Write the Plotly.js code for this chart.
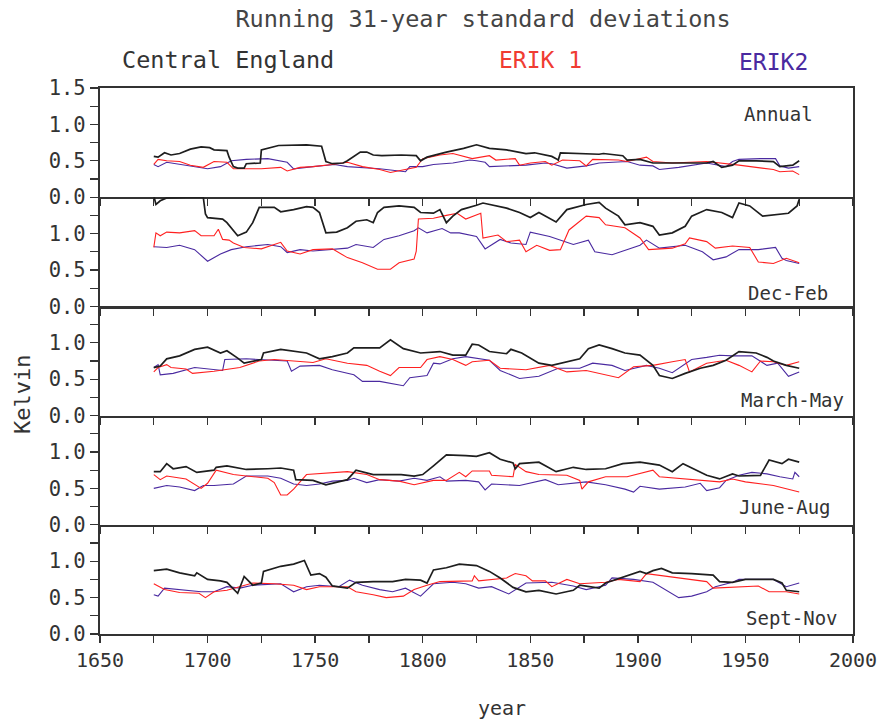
<!DOCTYPE html>
<html>
<head>
<meta charset="utf-8">
<script src="https://cdn.plot.ly/plotly-3.0.1.min.js"></script>
<style>html,body{margin:0;padding:0;background:#fff;}#chart{width:877px;height:722px;}</style>
</head>
<body>
<div id="chart"></div>
<script>
// ---- Data ----
const panelNames = ["Annual", "Dec-Feb", "March-May", "June-Aug", "Sept-Nov"];
const seriesNames = ["Central England", "ERIK 1", "ERIK2"];

// Annual
const annCetYears = [1675,1677,1680,1683,1687,1692,1697,1701,1703,1709,1710,1712,1714,1717,1718,1723,1724.5,1725,1733,1746,1753,1755,1758,1763,1765,1771,1774,1777,1781,1790,1797,1799,1802,1811,1819,1825,1828,1831,1839,1848,1852,1860,1862,1863,1864,1882,1884,1893,1895,1901,1907,1916,1932,1935,1939,1944,1947,1955,1963,1966,1972,1975];
const annCetVals  = [0.56,0.55,0.61,0.58,0.60,0.66,0.69,0.68,0.65,0.64,0.55,0.42,0.40,0.40,0.46,0.47,0.47,0.65,0.71,0.72,0.70,0.49,0.46,0.47,0.50,0.62,0.62,0.58,0.57,0.58,0.57,0.50,0.55,0.62,0.67,0.72,0.70,0.67,0.65,0.60,0.61,0.56,0.53,0.51,0.61,0.59,0.60,0.57,0.51,0.52,0.47,0.47,0.47,0.49,0.41,0.44,0.50,0.50,0.49,0.42,0.44,0.50];
const annE1Years = [1675,1677,1681,1687,1692,1698,1703,1709,1712,1725,1734,1737,1743,1749,1758,1765,1772,1780,1785,1791,1797,1800,1808,1814,1820,1823,1831,1834,1843,1845,1850,1857,1860,1865,1873,1876,1879,1891,1895,1904,1907,1916,1932,1939,1947,1955,1963,1966,1972,1975];
const annE1Vals  = [0.45,0.52,0.50,0.49,0.44,0.41,0.49,0.48,0.39,0.39,0.41,0.36,0.41,0.42,0.45,0.48,0.42,0.38,0.34,0.38,0.41,0.53,0.58,0.60,0.56,0.53,0.57,0.51,0.53,0.44,0.47,0.49,0.44,0.51,0.50,0.43,0.52,0.51,0.49,0.55,0.49,0.47,0.49,0.47,0.44,0.41,0.38,0.35,0.36,0.31];
const annE2Years = [1675,1677,1681,1687,1692,1700,1706,1711,1718,1728,1737,1740,1749,1759,1765,1780,1792,1794,1800,1805,1814,1822,1825,1829,1831,1839,1848,1857,1860,1867,1876,1882,1895,1901,1907,1910,1919,1932,1941,1944,1947,1957,1964,1966,1970,1975];
const annE2Vals  = [0.45,0.42,0.48,0.45,0.43,0.39,0.42,0.50,0.52,0.53,0.48,0.39,0.42,0.45,0.42,0.39,0.35,0.42,0.42,0.45,0.47,0.51,0.50,0.48,0.42,0.43,0.44,0.47,0.46,0.40,0.43,0.47,0.49,0.44,0.43,0.38,0.41,0.47,0.42,0.49,0.52,0.53,0.53,0.43,0.40,0.42];

// Dec-Feb
const djfCetYears = [1675,1676,1678,1681,1690,1696,1698,1699,1700,1707,1709,1714,1718,1721,1724,1731,1734,1740,1746,1749,1752,1755,1760,1765,1769,1774,1777,1779,1782,1789,1796,1799,1805,1808,1811,1814,1818,1825,1828,1839,1845,1850,1854,1862,1867,1876,1882,1885,1891,1894,1901,1907,1910,1916,1922,1925,1932,1939,1944,1947,1952,1958,1963,1970,1974,1975];
const djfCetVals  = [1.52,1.40,1.45,1.49,1.50,1.50,1.50,1.27,1.22,1.20,1.15,0.97,1.02,1.15,1.36,1.36,1.30,1.33,1.37,1.36,1.29,1.01,1.02,1.08,1.17,1.19,1.15,1.29,1.36,1.38,1.36,1.29,1.28,1.33,1.15,1.24,1.33,1.39,1.42,1.35,1.29,1.22,1.29,1.16,1.33,1.40,1.43,1.35,1.24,1.12,1.15,1.10,0.98,1.01,1.10,1.24,1.33,1.29,1.22,1.42,1.38,1.24,1.26,1.28,1.38,1.47];
const djfE1Years = [1675,1676,1678,1681,1687,1694,1697,1703,1705,1707,1710,1712,1717,1725,1734,1737,1743,1749,1758,1765,1772,1779,1785,1789,1796,1797,1798,1805,1811,1816,1820,1824,1827,1828,1835,1839,1845,1848,1853,1859,1864,1868,1871,1876,1882,1885,1894,1901,1905,1916,1922,1924,1932,1936,1944,1952,1956,1963,1969,1975];
const djfE1Vals  = [0.81,1.01,0.97,1.02,1.01,1.04,0.97,0.97,1.06,0.92,0.91,0.87,0.81,0.79,0.88,0.76,0.72,0.78,0.79,0.67,0.60,0.51,0.51,0.60,0.65,0.76,1.20,1.21,1.25,1.28,1.20,1.24,1.28,0.94,0.98,0.89,0.91,0.75,0.84,0.77,0.78,1.05,1.12,1.24,1.22,1.12,1.08,0.94,0.78,0.80,0.86,0.94,0.89,0.80,0.83,0.81,0.61,0.59,0.66,0.60];
const djfE2Years = [1675,1681,1687,1694,1700,1706,1711,1718,1728,1734,1737,1743,1749,1759,1765,1769,1777,1782,1789,1796,1798,1802,1809,1813,1817,1825,1829,1836,1841,1848,1850,1859,1870,1877,1880,1888,1894,1901,1904,1910,1922,1930,1935,1941,1947,1956,1964,1967,1969,1975];
const djfE2Vals  = [0.82,0.81,0.84,0.78,0.62,0.72,0.78,0.82,0.85,0.82,0.74,0.78,0.76,0.79,0.80,0.85,0.81,0.92,0.97,1.04,1.08,1.01,1.07,1.01,1.01,0.96,0.79,0.92,0.87,0.85,1.02,0.96,0.85,0.91,0.75,0.71,0.77,0.84,0.91,0.80,0.84,0.75,0.64,0.68,0.78,0.78,0.81,0.66,0.63,0.59];

// March-May
const mamCetYears = [1675,1678,1681,1687,1694,1700,1706,1709,1714,1717,1725,1726,1734,1746,1752,1758,1765,1768,1780,1785,1791,1799,1808,1814,1820,1823,1826,1831,1839,1841,1846,1854,1860,1867,1873,1877,1882,1888,1894,1901,1907,1910,1916,1922,1929,1935,1941,1947,1955,1960,1963,1969,1975];
const mamCetVals  = [0.66,0.68,0.78,0.82,0.91,0.94,0.86,0.89,0.79,0.72,0.77,0.86,0.91,0.86,0.78,0.81,0.86,0.93,0.93,1.04,0.92,0.86,0.88,0.83,0.83,0.98,0.97,0.88,0.85,0.91,0.86,0.72,0.69,0.74,0.78,0.92,0.97,0.92,0.86,0.83,0.69,0.55,0.51,0.58,0.65,0.69,0.76,0.88,0.86,0.80,0.75,0.69,0.65];
const mamE1Years = [1675,1677,1681,1683,1690,1693,1703,1715,1724,1731,1749,1755,1765,1774,1780,1785,1789,1799,1802,1808,1814,1820,1823,1831,1836,1848,1859,1867,1876,1891,1898,1907,1916,1922,1924,1932,1941,1947,1953,1957,1963,1969,1975];
const mamE1Vals  = [0.60,0.66,0.70,0.66,0.64,0.58,0.61,0.66,0.75,0.77,0.73,0.78,0.72,0.69,0.61,0.55,0.66,0.66,0.77,0.81,0.77,0.69,0.74,0.76,0.65,0.63,0.69,0.60,0.62,0.52,0.67,0.69,0.74,0.77,0.60,0.72,0.76,0.69,0.60,0.75,0.74,0.69,0.74];
const mamE2Years = [1675,1677,1678,1684,1694,1703,1707,1708,1718,1737,1739,1743,1752,1758,1768,1772,1780,1791,1794,1802,1805,1808,1814,1820,1826,1831,1836,1845,1854,1863,1873,1879,1888,1894,1904,1910,1916,1925,1932,1938,1944,1953,1960,1965,1970,1975];
const mamE2Vals  = [0.66,0.70,0.56,0.58,0.66,0.63,0.62,0.77,0.78,0.75,0.61,0.68,0.69,0.63,0.56,0.47,0.47,0.41,0.52,0.55,0.72,0.71,0.78,0.81,0.78,0.76,0.62,0.51,0.54,0.65,0.65,0.72,0.69,0.62,0.69,0.65,0.59,0.77,0.80,0.83,0.82,0.82,0.69,0.72,0.54,0.60];

// June-Aug
const jjaCetYears = [1675,1678,1681,1684,1690,1695,1703,1704,1709,1718,1728,1734,1740,1741,1749,1755,1765,1769,1777,1790,1796,1800,1805,1811,1820,1825,1831,1836,1842,1843,1845,1854,1862,1870,1876,1885,1893,1901,1910,1916,1921,1929,1932,1938,1944,1947,1957,1961,1967,1970,1975];
const jjaCetVals  = [0.73,0.73,0.84,0.77,0.80,0.72,0.75,0.79,0.81,0.76,0.77,0.78,0.75,0.62,0.61,0.55,0.62,0.75,0.69,0.69,0.67,0.69,0.81,0.96,0.95,0.94,0.99,0.90,0.85,0.77,0.84,0.86,0.73,0.79,0.76,0.77,0.84,0.86,0.82,0.73,0.84,0.73,0.68,0.63,0.70,0.67,0.68,0.89,0.84,0.90,0.86];
const jjaE1Years = [1675,1678,1681,1690,1697,1700,1704,1712,1718,1728,1731,1734,1737,1740,1746,1752,1765,1774,1780,1789,1796,1805,1811,1817,1820,1823,1831,1832,1842,1843,1848,1854,1867,1873,1874,1877,1885,1895,1904,1907,1910,1922,1932,1938,1944,1950,1963,1969,1975];
const jjaE1Vals  = [0.69,0.62,0.67,0.63,0.50,0.57,0.75,0.69,0.67,0.64,0.58,0.41,0.41,0.49,0.69,0.70,0.73,0.69,0.62,0.60,0.55,0.61,0.61,0.72,0.66,0.74,0.74,0.68,0.66,0.83,0.73,0.69,0.68,0.61,0.49,0.59,0.66,0.66,0.72,0.75,0.66,0.63,0.61,0.59,0.63,0.59,0.54,0.49,0.45];
const jjaE2Years = [1675,1681,1687,1694,1698,1703,1712,1718,1728,1734,1740,1746,1752,1758,1765,1768,1774,1780,1789,1796,1802,1808,1811,1820,1826,1829,1832,1845,1857,1863,1876,1885,1894,1898,1901,1910,1922,1929,1932,1938,1941,1947,1953,1960,1966,1972,1973,1975];
const jjaE2Vals  = [0.50,0.54,0.52,0.47,0.54,0.54,0.56,0.67,0.67,0.64,0.56,0.54,0.56,0.60,0.61,0.64,0.58,0.62,0.60,0.64,0.61,0.66,0.60,0.61,0.59,0.48,0.56,0.54,0.62,0.55,0.59,0.55,0.49,0.45,0.53,0.49,0.52,0.57,0.47,0.51,0.61,0.68,0.72,0.70,0.66,0.63,0.72,0.66];

// Sept-Nov
const sonCetYears = [1675,1681,1687,1694,1695,1700,1706,1709,1714,1717,1721,1725,1726,1734,1740,1745,1748,1752,1755,1758,1765,1769,1777,1786,1792,1799,1802,1805,1811,1817,1825,1831,1836,1842,1848,1854,1862,1870,1873,1882,1885,1893,1901,1904,1907,1911,1916,1925,1935,1938,1944,1950,1963,1967,1969,1975];
const sonCetVals  = [0.87,0.89,0.84,0.80,0.84,0.75,0.73,0.71,0.56,0.79,0.67,0.70,0.86,0.93,0.96,1.01,0.81,0.83,0.78,0.66,0.63,0.71,0.72,0.72,0.75,0.74,0.70,0.88,0.91,0.96,0.94,0.86,0.77,0.64,0.58,0.60,0.55,0.60,0.67,0.63,0.70,0.78,0.86,0.83,0.87,0.90,0.84,0.83,0.81,0.72,0.71,0.75,0.75,0.70,0.60,0.58];
const sonE1Years = [1675,1680,1687,1696,1699,1703,1709,1715,1721,1731,1740,1746,1752,1765,1769,1777,1783,1791,1796,1802,1808,1823,1824,1826,1839,1843,1848,1851,1857,1860,1867,1873,1885,1891,1901,1904,1916,1932,1935,1947,1956,1961,1969,1975];
const sonE1Vals  = [0.69,0.61,0.57,0.56,0.50,0.58,0.60,0.65,0.70,0.69,0.67,0.61,0.65,0.65,0.58,0.54,0.50,0.52,0.61,0.67,0.72,0.73,0.80,0.73,0.77,0.83,0.80,0.73,0.73,0.65,0.75,0.69,0.71,0.75,0.72,0.83,0.78,0.72,0.63,0.65,0.66,0.58,0.58,0.55];
const sonE2Years = [1675,1677,1680,1687,1697,1703,1709,1715,1721,1734,1740,1746,1752,1761,1766,1772,1780,1786,1792,1799,1805,1814,1820,1826,1832,1840,1848,1860,1870,1876,1885,1888,1898,1907,1913,1919,1925,1932,1936,1944,1947,1963,1969,1972,1975];
const sonE2Vals  = [0.54,0.52,0.63,0.61,0.58,0.58,0.65,0.63,0.67,0.69,0.58,0.65,0.67,0.65,0.74,0.67,0.61,0.58,0.63,0.52,0.69,0.71,0.69,0.63,0.65,0.55,0.70,0.71,0.66,0.61,0.67,0.77,0.75,0.71,0.60,0.50,0.52,0.58,0.65,0.71,0.75,0.75,0.65,0.67,0.70];

const xTickVals = [1650,1700,1750,1800,1850,1900,1950,2000];

// ---- Build traces ----
const panels = [
  [[annCetYears, annCetVals], [annE1Years, annE1Vals], [annE2Years, annE2Vals]],
  [[djfCetYears, djfCetVals], [djfE1Years, djfE1Vals], [djfE2Years, djfE2Vals]],
  [[mamCetYears, mamCetVals], [mamE1Years, mamE1Vals], [mamE2Years, mamE2Vals]],
  [[jjaCetYears, jjaCetVals], [jjaE1Years, jjaE1Vals], [jjaE2Years, jjaE2Vals]],
  [[sonCetYears, sonCetVals], [sonE1Years, sonE1Vals], [sonE2Years, sonE2Vals]]
];
const lineStyles = [
  {color: '#1e1e1e', width: 1.7},
  {color: '#ff2020', width: 1.1},
  {color: '#4a2aa0', width: 1.1}
];
const traces = [];
const order = [2, 1, 0];
panels.forEach((p, i) => {
  const sfx = i === 0 ? '' : String(i + 1);
  order.forEach(s => {
    traces.push({
      type: 'scatter', mode: 'lines',
      x: p[s][0], y: p[s][1],
      name: seriesNames[s],
      xaxis: 'x' + sfx, yaxis: 'y' + sfx,
      line: Object.assign({shape: 'linear'}, lineStyles[s]),
      showlegend: false, hoverinfo: 'skip'
    });
  });
});

const FONT = '"DejaVu Sans Mono", "Liberation Mono", monospace';
const axisColor = '#333';
const layout = {
  width: 877, height: 722,
  margin: {l: 100, r: 24, t: 88, b: 88},
  paper_bgcolor: '#fff', plot_bgcolor: '#fff',
  font: {family: FONT, color: '#333', size: 20},
  title: {text: 'Running 31-year standard deviations', x: 483/877, xref: 'container', xanchor: 'center', y: 1 - 19/722, yref: 'container', yanchor: 'middle', font: {family: FONT, size: 23.5, color: '#444'}},
  showlegend: false,
  annotations: []
};

for (let i = 0; i < 5; i++) {
  const sfx = i === 0 ? '' : String(i + 1);
  const top = 1 - i * 0.2, bot = 1 - (i + 1) * 0.2;
  const isBottom = i === 4;
  layout['xaxis' + sfx] = {
    range: [1650, 2000], anchor: 'y' + sfx, domain: [0, 1],
    showgrid: false, zeroline: false,
    showline: true, mirror: i === 0, linecolor: axisColor, linewidth: 2.2,
    tickvals: xTickVals, ticktext: xTickVals.map(String),
    ticks: 'outside', ticklen: 7, tickwidth: 1.3, tickcolor: axisColor,
    minor: {dtick: 25, tick0: 1650, ticks: 'outside', ticklen: 7, tickwidth: 1.3, tickcolor: axisColor},
    showticklabels: isBottom,
    ticklabeloverflow: 'allow',
    tickfont: {family: FONT, size: 20, color: '#333'},
    fixedrange: true
  };
  const yvals = i === 0 ? [0, 0.5, 1.0, 1.5] : [0, 0.5, 1.0];
  layout['yaxis' + sfx] = {
    range: [0, 1.5], anchor: 'x' + sfx, domain: [Math.max(0, bot), Math.min(1, top)],
    showgrid: false, zeroline: false,
    showline: true, mirror: true, linecolor: axisColor, linewidth: 2.2,
    tickvals: yvals, ticktext: yvals.map(v => v.toFixed(1)),
    ticks: 'outside', ticklen: 8, tickwidth: 1.3, tickcolor: axisColor,
    minor: {tickvals: [0.25, 0.75, 1.25], ticks: 'outside', ticklen: 8, tickwidth: 1.3, tickcolor: axisColor},
    tickfont: {family: FONT, size: 20.5, color: '#333'},
    fixedrange: true
  };
}

// pixel helpers for annotations
const px2x = px => (px - 100) / 753;
const py2y = py => (634 - py) / 546;

const ann = layout.annotations;
ann.push({text: 'Central England', xref: 'paper', yref: 'paper', x: px2x(228), y: py2y(60), xanchor: 'center', yanchor: 'middle', showarrow: false, font: {family: FONT, size: 23.5, color: '#333'}});
ann.push({text: 'ERIK 1', xref: 'paper', yref: 'paper', x: px2x(540), y: py2y(60), xanchor: 'center', yanchor: 'middle', showarrow: false, font: {family: FONT, size: 23, color: '#f03c32'}});
ann.push({text: 'ERIK2', xref: 'paper', yref: 'paper', x: px2x(773), y: py2y(62), xanchor: 'center', yanchor: 'middle', showarrow: false, font: {family: FONT, size: 23, color: '#4a2aa0'}});
ann.push({text: 'Kelvin', xref: 'paper', yref: 'paper', x: px2x(22), y: py2y(395), xanchor: 'center', yanchor: 'middle', textangle: -90, showarrow: false, font: {family: FONT, size: 22, color: '#333'}});
ann.push({text: 'year', xref: 'paper', yref: 'paper', x: px2x(502), y: py2y(708), xanchor: 'center', yanchor: 'middle', showarrow: false, font: {family: FONT, size: 20, color: '#333'}});

const panelLabelPos = [[815, 114], [830, 293], [846, 400], [833, 507], [840, 618]];
panelNames.forEach((n, i) => {
  ann.push({text: n, xref: 'paper', yref: 'paper', x: px2x(panelLabelPos[i][0]), y: py2y(panelLabelPos[i][1]), xanchor: 'right', yanchor: 'middle', showarrow: false, font: {family: FONT, size: 19, color: '#333'}});
});

Plotly.newPlot('chart', traces, layout, {staticPlot: true, displayModeBar: false});
</script>
</body>
</html>
